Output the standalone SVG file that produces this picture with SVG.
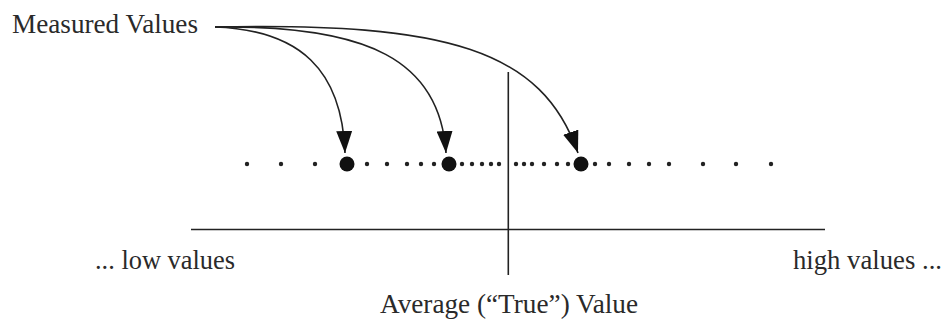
<svg xmlns="http://www.w3.org/2000/svg" width="945" height="320" viewBox="0 0 945 320">
<defs>
<style>
.t{font-family:"Liberation Serif","DejaVu Serif",serif;font-size:27px;fill:#2a2a2a}
.ln{stroke:#222;fill:none;stroke-width:1.6}
.sd{fill:#222}
.bd{fill:#111}
</style>
<marker id="ah" viewBox="0 0 22 16" refX="22" refY="8" markerWidth="22" markerHeight="16" markerUnits="userSpaceOnUse" orient="auto">
<path d="M0,0 L22,8 L0,16 Z" fill="#111"/>
</marker>
</defs>
<rect width="945" height="320" fill="#fff"/>
<g id="label-measured"><text class="t" x="12" y="33" textLength="186" lengthAdjust="spacingAndGlyphs">Measured Values</text></g>
<g id="label-low"><text class="t" x="95" y="269" textLength="140" lengthAdjust="spacingAndGlyphs">... low values</text></g>
<g id="label-high"><text class="t" x="793" y="269" textLength="149" lengthAdjust="spacingAndGlyphs">high values ...</text></g>
<g id="label-average"><text class="t" x="380" y="313" textLength="258" lengthAdjust="spacingAndGlyphs">Average (“True”) Value</text></g>
<g id="axis">
<line class="ln" x1="191" y1="229.5" x2="825" y2="229.5"/>
<line class="ln" x1="508.3" y1="72" x2="508.3" y2="275"/>
</g>
<g id="small-dots" class="sd">
<circle cx="247" cy="164" r="2.2"/><circle cx="281" cy="164" r="2.2"/><circle cx="315" cy="164" r="2.2"/>
<circle cx="367" cy="164" r="2.2"/><circle cx="387" cy="164" r="2.2"/><circle cx="407" cy="164" r="2.2"/><circle cx="421" cy="164" r="2.2"/><circle cx="434" cy="164" r="2.2"/>
<circle cx="462" cy="164" r="2.2"/><circle cx="472" cy="164" r="2.2"/><circle cx="482" cy="164" r="2.2"/><circle cx="491" cy="164" r="2.2"/><circle cx="499" cy="164" r="2.2"/>
<circle cx="516" cy="164" r="2.2"/><circle cx="524" cy="164" r="2.2"/><circle cx="532" cy="164" r="2.2"/><circle cx="544" cy="164" r="2.2"/><circle cx="557" cy="164" r="2.2"/><circle cx="568" cy="164" r="2.2"/>
<circle cx="595" cy="164" r="2.2"/><circle cx="609" cy="164" r="2.2"/><circle cx="629" cy="164" r="2.2"/><circle cx="649" cy="164" r="2.2"/><circle cx="669" cy="164" r="2.2"/><circle cx="703" cy="164" r="2.2"/><circle cx="736" cy="164" r="2.2"/><circle cx="771" cy="164" r="2.2"/>
</g>
<g id="value-1"><circle class="bd" cx="347" cy="164" r="7.5"/></g>
<g id="value-2"><circle class="bd" cx="449" cy="164" r="7.5"/></g>
<g id="value-3"><circle class="bd" cx="581" cy="164" r="7.5"/></g>
<g id="connectors" class="ln">
<path d="M215,27 C300,30 342,70 345,153" marker-end="url(#ah)"/>
<path d="M215,27 C368,25 440,60 446,153" marker-end="url(#ah)"/>
<path d="M215,27 C448,22 542,50 578,153" marker-end="url(#ah)"/>
</g>
</svg>
